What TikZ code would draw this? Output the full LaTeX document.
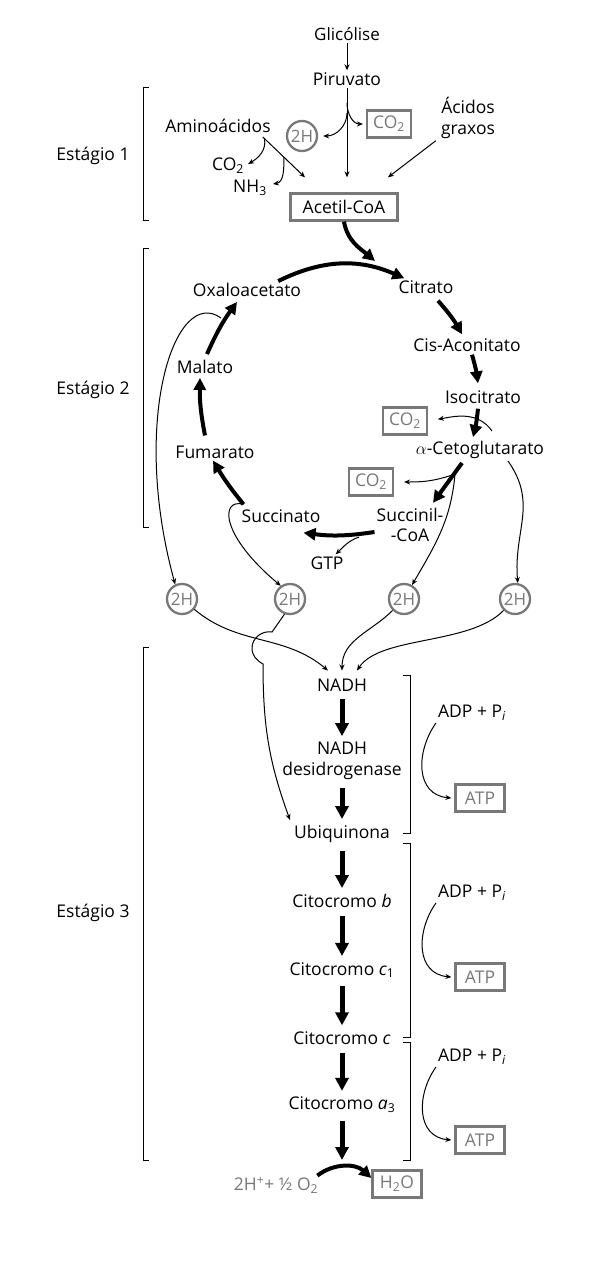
\documentclass[tikz,border=0pt]{standalone}
\usepackage{fontspec}
\setmainfont{Open Sans}
\usetikzlibrary{arrows.meta,calc}
\definecolor{boxgray}{gray}{0.47}
\begin{document}
\begin{tikzpicture}[x=1pt, y=1pt,
  every node/.style = {font=\fontsize{17.5}{20.5}\selectfont, inner sep=2pt, align=center},
  gbox/.style = {draw=boxgray, line width=2.3pt, text=boxgray, inner xsep=6pt, minimum height=27pt},
  hcirc/.style = {circle, draw=boxgray, line width=2.3pt, text=boxgray, inner sep=0pt,
    minimum size=30pt, font=\fontsize{17}{18}\selectfont},
  thinarr/.style = {line width=1pt, -{Stealth[length=6pt,width=5pt]}},
  fatarr/.style = {line width=4pt, -{Triangle[length=12pt,width=12pt]}},
  blockarr/.style = {line width=5pt, -{Triangle[length=13pt,width=13pt]},
    shorten <=6pt, shorten >=4pt},
  brk/.style = {line width=1pt}]
  \useasboundingbox (0,0) rectangle (600,-1265);

  \node (st1) at (93,-156) {Estágio 1};
  \node (st2) at (93,-390) {Estágio 2};
  \node (st3) at (93,-913) {Estágio 3};
  \foreach \ya/\yb in {88/221, 249/527, 647/1160}
    \draw[brk] (149,-\ya) -- (143,-\ya) -- (143,-\yb) -- (149,-\yb);
  \foreach \ya/\yb in {675/833, 843/1037, 1042/1160}
    \draw[brk] (403,-\ya) -- (410,-\ya) -- (410,-\yb) -- (403,-\yb);

  \node[font=\fontsize{17}{19}\selectfont] (glic) at (347,-34) {Glicólise};
  \node (piru) at (347,-79) {Piruvato};
  \node[gbox] (co2a) at (389,-124) {CO\textsubscript{2}};
  \node[hcirc] (hha) at (302,-136) {2H};
  \node (amino) at (218,-126) {Aminoácidos};
  \node (acid) at (468,-118) {Ácidos\\graxos};
  \node (co2n) at (228,-166) {CO\textsubscript{2}};
  \node (nh3) at (250,-188) {NH\textsubscript{3}};
  \node[gbox, text=black, minimum width=107pt] (acetil) at (344,-207) {Acetil-CoA};

  \draw[thinarr] (glic) -- (piru);
  \draw[thinarr, shorten >=15pt] (piru.south) -- (piru.south |- acetil.north);
  \coordinate (pb1) at (347,-103);
  \coordinate (pb2) at (347,-113);
  \draw[thinarr] (pb1) to[out=-90,in=180] ([xshift=-3pt]co2a.west);
  \draw[thinarr] (pb2) to[out=-90,in=0] ([xshift=5pt]hha.east);
  \coordinate (am1) at ([xshift=-10pt,yshift=-2pt]amino.south east);
  \coordinate (am2) at ([xshift=-39pt,yshift=15pt]acetil.north);
  \draw[thinarr] (am1) -- (am2);
  \draw[thinarr] ($(am1)!0.04!(am2)$) to[out=-80,in=30] ([xshift=2pt,yshift=2pt]co2n.east);
  \draw[thinarr] ($(am1)!0.5!(am2)$) to[out=-90,in=10] ([xshift=4pt,yshift=4pt]nh3.east);
  \draw[thinarr] ([xshift=-3pt]acid.south west) -- ([xshift=44pt,yshift=15pt]acetil.north);

  \node (oxa) at (247,-290) {Oxaloacetato};
  \node (cit) at (426,-287) {Citrato};
  \node (cis) at (467,-345) {Cis-Aconitato};
  \node (iso) at (483,-397) {Isocitrato};
  \node (ceto) at (480,-450) {$\alpha$-Cetoglutarato};
  \node (scoa) at (410,-525) {Succinil-\\-CoA};
  \node (succ) at (281,-516) {Succinato};
  \node (fum) at (215,-452) {Fumarato};
  \node (mal) at (205,-367) {Malato};
  \node[gbox] (co2b) at (405,-421) {CO\textsubscript{2}};
  \node[gbox] (co2c) at (371,-482) {CO\textsubscript{2}};
  \node (gtp) at (327,-563) {GTP};

  \coordinate (acin) at (375,-261);
  \draw[fatarr] ([xshift=-25pt]oxa.north east) to[bend left=25] ([xshift=8pt]cit.north west);
  \draw[fatarr] (acetil.south) to[out=-80,in=140] (acin);
  \draw[fatarr] ([xshift=12pt,yshift=-5pt]cit.south) to[bend left=6] ([xshift=-5pt,yshift=2pt]cis.north);
  \draw[fatarr] ([xshift=5pt,yshift=-1pt]cis.south) to[bend left=4] ([xshift=-5pt,yshift=5pt]iso.north);
  \draw[fatarr] ([xshift=-5pt,yshift=-3pt]iso.south) to[bend left=4] ([xshift=-7pt,yshift=2pt]ceto.north);
  \draw[fatarr] ([xshift=-18pt,yshift=-2pt]ceto.south) -- ([xshift=23pt,yshift=3pt]scoa.north);
  \draw[fatarr] ([yshift=-7pt]scoa.west) to[bend left=8] ([xshift=-19pt,yshift=-8pt]succ.south east);
  \draw[fatarr] ([xshift=4pt,yshift=3pt]succ.north west) to[bend left=4] ([xshift=-2pt]fum.south);
  \draw[fatarr] ([xshift=-10pt,yshift=8pt]fum.north) to[bend left=6] ([xshift=-5pt,yshift=-2pt]mal.south);
  \draw[fatarr] ([xshift=2pt,yshift=4pt]mal.north) to[bend left=6] ([xshift=-10pt,yshift=-3pt]oxa.south);

  \coordinate (k1) at (492,-431);
  \coordinate (k2) at (455,-474);
  \coordinate (k3) at (221,-318);
  \coordinate (k4) at (359,-537);
  \draw[thinarr, shorten >=10pt] (k1) to[out=125,in=10] (co2b.east);
  \draw[thinarr, shorten >=10pt] (k2) to[out=200,in=0] (co2c.east);
  \draw[thinarr] (k4) to[out=200,in=45] ([xshift=-10pt]gtp.north east);

  \node[hcirc] (hhb) at (182,-599) {2H};
  \node[hcirc] (hhc) at (290,-599) {2H};
  \node[hcirc] (hhd) at (404,-599) {2H};
  \node[hcirc] (hhe) at (515,-599) {2H};

  \draw[thinarr] (k3) .. controls (175,-285) and (130,-420) .. (hhb.115);
  \draw[thinarr] ([xshift=4pt,yshift=3pt]succ.north west) .. controls (220,-498) and (220,-535) .. (hhc.125);
  \draw[thinarr] (k2) to[out=-95,in=60] (hhd.60);
  \draw[thinarr] ([xshift=28pt]ceto.south) to[out=-55,in=95,looseness=1.1] (hhe.80);

  \node (nadh) at (342,-685) {NADH};
  \node (nadhd) at (342,-761) {NADH\\desidrogenase};
  \node (ubi) at (342,-834) {Ubiquinona};
  \node (cb) at (342,-901) {Citocromo \emph{b}};
  \node (cc1) at (342,-970) {Citocromo \emph{c}\textsubscript{1}};
  \node (cc) at (342,-1038) {Citocromo \emph{c}};
  \node (ca3) at (342,-1105) {Citocromo \emph{a}\textsubscript{3}};
  \node[text=boxgray] (oxy) at (276,-1185) {2H\textsuperscript{+}+ ½ O\textsubscript{2}};
  \node[gbox, minimum width=49pt] (water) at (397,-1184) {H\textsubscript{2}O};
  \coordinate (react) at (342,-1160);

  \draw[thinarr] (hhb.-40) to[out=-40,in=140] ([xshift=-14pt,yshift=6pt]nadh.north);
  \draw[thinarr] (hhd.-135) to[out=-135,in=90] ([yshift=6pt]nadh.north);
  \draw[thinarr] (hhe.-135) .. controls +(-34,-35) and +(23,35) .. ([xshift=15pt,yshift=6pt]nadh.north);
  \draw[thinarr] (hhc.-110) -- (272,-632) to[out=170,in=90] (252,-648)
    to[out=-90,in=150] (263,-664) to[out=-90,in=110] ([xshift=-2pt,yshift=3pt]ubi.north west);

  \draw[blockarr] (nadh) -- (nadhd);
  \draw[blockarr] (nadhd) -- (ubi);
  \draw[blockarr] (ubi) -- (cb);
  \draw[blockarr] (cb) -- (cc1);
  \draw[blockarr] (cc1) -- (cc);
  \draw[blockarr] (cc) -- (ca3);
  \draw[blockarr, shorten >=0pt] (ca3) -- (react);
  \draw[fatarr] ([xshift=-3pt,yshift=-1pt]oxy.north east) to[bend left=40] ([yshift=6pt]water.west);

  \foreach \i/\ya/\yb in {1/713/798, 2/893/977, 3/1057/1140} {
    \node (adp\i) at (472,-\ya) {ADP + P\textsubscript{\emph{i}}};
    \node[gbox, minimum width=49pt] (atp\i) at (480,-\yb) {ATP};
    \draw[thinarr] (adp\i.south west) to[out=-125,in=175,looseness=1.2] ([xshift=-3pt]atp\i.west);
  }
\end{tikzpicture}
\end{document}
